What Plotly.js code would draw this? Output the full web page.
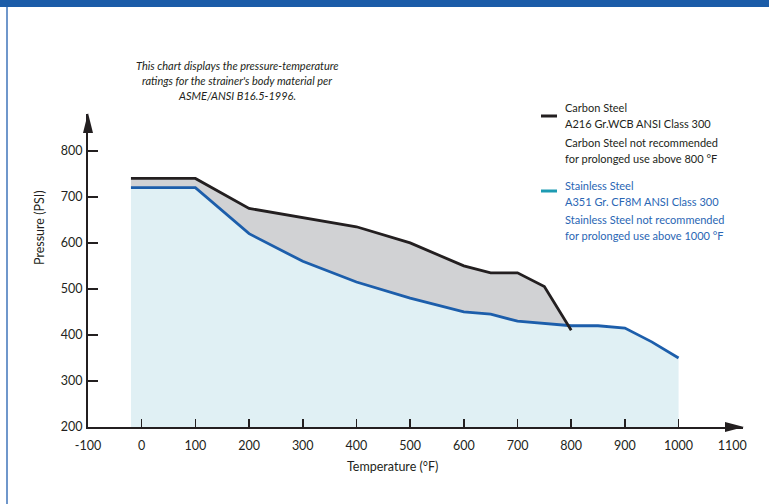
<!DOCTYPE html>
<html>
<head>
<meta charset="utf-8">
<script src="https://cdn.plot.ly/plotly-3.0.1.min.js"></script>
<style>
html,body{margin:0;padding:0;background:#fff;}
#chart{width:769px;height:504px;}
</style>
</head>
<body>
<div id="chart"></div>
<script>
// ---- data ----
const carbonTemp = [-20, 100, 200, 300, 400, 500, 600, 650, 700, 750, 800];
const carbonPsi  = [740, 740, 675, 655, 635, 600, 550, 535, 535, 505, 410];
const stainTemp  = [-20, 100, 200, 300, 400, 500, 600, 650, 700, 750, 800, 850, 900, 950, 1000];
const stainPsi   = [720, 720, 620, 560, 515, 480, 450, 445, 430, 425, 420, 420, 415, 385, 350];
const xTickVals  = [-100, 0, 100, 200, 300, 400, 500, 600, 700, 800, 900, 1000, 1100];
const xTickMarks = [0, 100, 200, 300, 400, 500, 600, 700, 800, 900, 1000];
const yTickVals  = [200, 300, 400, 500, 600, 700, 800];

const noteLines = [
  "This chart displays the pressure-temperature",
  "ratings for the strainer's body material per",
  "ASME/ANSI B16.5-1996."
];
const carbonLegend = ["Carbon Steel", "A216 Gr.WCB ANSI Class 300", "Carbon Steel not recommended", "for prolonged use above 800 °F"];
const stainLegend  = ["Stainless Steel", "A351 Gr. CF8M ANSI Class 300", "Stainless Steel not recommended", "for prolonged use above 1000 °F"];

// ---- helpers ----
function interp(xs, ys, x) {
  for (let i = 0; i < xs.length - 1; i++) {
    if (x >= xs[i] && x <= xs[i + 1]) {
      const t = (x - xs[i]) / (xs[i + 1] - xs[i]);
      return ys[i] + t * (ys[i + 1] - ys[i]);
    }
  }
  return ys[ys.length - 1];
}
// grey band between carbon (top) and stainless (bottom), ending where they cross
const greyX = [], greyTop = [], greyBot = [];
for (let i = 0; i < carbonTemp.length; i++) {
  const x = carbonTemp[i];
  const s = interp(stainTemp, stainPsi, x);
  const c = carbonPsi[i];
  if (c >= s) { greyX.push(x); greyTop.push(c); greyBot.push(s); }
  else {
    const xp = carbonTemp[i - 1], cp = carbonPsi[i - 1], sp = interp(stainTemp, stainPsi, xp);
    const d0 = cp - sp, d1 = c - s;
    const xc = xp + (x - xp) * d0 / (d0 - d1);
    const yc = interp(stainTemp, stainPsi, xc);
    greyX.push(xc); greyTop.push(yc); greyBot.push(yc);
    break;
  }
}

const W = 769, H = 504;
const M = {l: 88, r: 26, t: 114, b: 77};
const pw = W - M.l - M.r, ph = H - M.t - M.b;
const px = x => (x - M.l) / pw;
const py = y => (H - M.b - y) / ph;

const ink = '#231f20';
const blueLine = '#1c5eab';
const blueText = '#2a66b4';
const tealKey = '#1d9bb2';
const FONT = 'Lato, "Open Sans", sans-serif';

const traces = [
  {x: stainTemp, y: stainPsi, type: 'scatter', mode: 'lines', fill: 'tozeroy',
   fillcolor: '#e0f0f4', line: {width: 0, color: 'rgba(0,0,0,0)'}, hoverinfo: 'skip', showlegend: false},
  {x: greyX, y: greyBot, type: 'scatter', mode: 'lines', line: {width: 0, color: 'rgba(0,0,0,0)'},
   hoverinfo: 'skip', showlegend: false},
  {x: greyX, y: greyTop, type: 'scatter', mode: 'lines', fill: 'tonexty', fillcolor: '#d1d2d4',
   line: {width: 0, color: 'rgba(0,0,0,0)'}, hoverinfo: 'skip', showlegend: false},
  {x: stainTemp, y: stainPsi, type: 'scatter', mode: 'lines', name: 'Stainless Steel',
   line: {width: 2.8, color: blueLine}, showlegend: false},
  {x: carbonTemp, y: carbonPsi, type: 'scatter', mode: 'lines', name: 'Carbon Steel',
   line: {width: 2.8, color: ink}, showlegend: false},
  {x: [null], y: [null], xaxis: 'x2', type: 'scatter', mode: 'lines', hoverinfo: 'skip', showlegend: false}
];

const annotations = [];
noteLines.forEach((t, i) => {
  annotations.push({xref: 'paper', yref: 'paper', x: px(237), y: py(65 + i * 15.5), text: '<i>' + t + '</i>',
    showarrow: false, xanchor: 'center', yanchor: 'middle', font: {family: FONT, size: 11, color: ink}});
});
const cY = [107, 124, 142, 158], sY = [185, 201, 219, 235];
carbonLegend.forEach((t, i) => {
  annotations.push({xref: 'paper', yref: 'paper', x: px(563), y: py(cY[i]), text: t, showarrow: false,
    xanchor: 'left', yanchor: 'middle', font: {family: FONT, size: 11, color: ink}});
});
stainLegend.forEach((t, i) => {
  annotations.push({xref: 'paper', yref: 'paper', x: px(563), y: py(sY[i]), text: t, showarrow: false,
    xanchor: 'left', yanchor: 'middle', font: {family: FONT, size: 11, color: blueText}});
});
annotations.push({xref: 'paper', yref: 'paper', x: px(392), y: py(467), text: 'Temperature (°F)', showarrow: false,
  xanchor: 'center', yanchor: 'middle', font: {family: FONT, size: 12.5, color: ink}});
annotations.push({xref: 'paper', yref: 'paper', x: px(39), y: py(228), text: 'Pressure (PSI)', showarrow: false,
  textangle: -90, xanchor: 'center', yanchor: 'middle', font: {family: FONT, size: 12.5, color: ink}});

const shapes = [
  // top band
  {type: 'rect', xref: 'paper', yref: 'paper', x0: px(0), x1: px(W), y0: py(7), y1: py(0),
   fillcolor: '#1b5ca8', line: {width: 0}, layer: 'above'},
  // left border
  {type: 'line', xref: 'paper', yref: 'paper', x0: px(7), x1: px(7), y0: py(7), y1: py(H),
   line: {color: '#3f74ba', width: 1.5}, layer: 'above'},
  // legend keys
  {type: 'line', xref: 'paper', yref: 'paper', x0: px(541), x1: px(557), y0: py(116), y1: py(116),
   line: {color: ink, width: 3}},
  {type: 'line', xref: 'paper', yref: 'paper', x0: px(541), x1: px(557), y0: py(191), y1: py(191),
   line: {color: tealKey, width: 3}},
  // axis arrow heads
  {type: 'path', xref: 'paper', yref: 'paper', xsizemode: 'pixel', ysizemode: 'pixel',
   xanchor: 1, yanchor: 0, path: 'M -18,5 L 1,0 L -18,-5 Z', fillcolor: ink, line: {width: 0}, layer: 'above'},
  {type: 'path', xref: 'paper', yref: 'paper', xsizemode: 'pixel', ysizemode: 'pixel',
   xanchor: 0, yanchor: 1, path: 'M -5,-19 L 0,1 L 5,-19 Z', fillcolor: ink, line: {width: 0}, layer: 'above'}
];

const layout = {
  width: W, height: H,
  margin: M,
  paper_bgcolor: '#ffffff', plot_bgcolor: 'rgba(0,0,0,0)',
  showlegend: false,
  font: {family: FONT, color: ink},
  xaxis: {range: [-100, 1120], tickvals: xTickVals, ticktext: xTickVals.map(String), ticks: '',
    showline: true, linecolor: ink, linewidth: 2, showgrid: false, zeroline: false,
    tickfont: {family: FONT, size: 12.5, color: ink}, ticklabelstandoff: 6, fixedrange: true},
  xaxis2: {range: [-100, 1120], overlaying: 'x', anchor: 'y', side: 'bottom', tickvals: xTickMarks,
    showticklabels: false, ticks: 'inside', ticklen: 8, tickwidth: 1.5, tickcolor: ink,
    showline: false, showgrid: false, zeroline: false, fixedrange: true},
  yaxis: {range: [200, 880], tickvals: yTickVals, ticktext: yTickVals.map(String), ticks: 'inside',
    ticklen: 10, tickwidth: 1.5, tickcolor: ink, showline: true, linecolor: ink, linewidth: 2,
    showgrid: false, zeroline: false, tickfont: {family: FONT, size: 12.5, color: ink},
    ticklabelstandoff: 1, fixedrange: true},
  annotations: annotations,
  shapes: shapes
};

Plotly.newPlot('chart', traces, layout, {displayModeBar: false, staticPlot: true});
</script>
</body>
</html>
